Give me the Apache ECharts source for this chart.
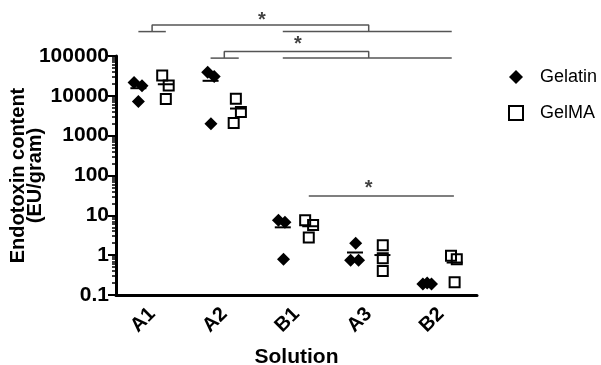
<!DOCTYPE html>
<html>
<head>
<meta charset="utf-8">
<script src="https://cdn.jsdelivr.net/npm/echarts@6/dist/echarts.min.js"></script>
<style>
html,body{margin:0;padding:0;background:#fff;}
#c{width:601px;height:365px;}
</style>
</head>
<body>
<div id="c"></div>
<script>
// ---- data ----
const categories = ['A1', 'A2', 'B1', 'A3', 'B2'];
const yTickLabels = ['0.1', '1', '10', '100', '1000', '10000', '100000'];
const gelatinValues = [
  [21600, 17800, 7200],
  [39100, 30400, 2000],
  [7.5, 6.7, 0.79],
  [2.0, 0.75, 0.75],
  [0.19, 0.2, 0.19]
];
const gelatinJitter = [
  [-0.25, -0.14, -0.19],
  [-0.23, -0.14, -0.185],
  [-0.25, -0.16, -0.18],
  [-0.18, -0.25, -0.14],
  [-0.25, -0.19, -0.13]
];
const gelmaValues = [
  [32200, 18100, 8270],
  [8400, 3910, 2080],
  [7.5, 5.7, 2.76],
  [1.78, 0.84, 0.4],
  [0.96, 0.79, 0.21]
];
const gelmaJitter = [
  [0.14, 0.23, 0.19],
  [0.16, 0.23, 0.13],
  [0.12, 0.23, 0.17],
  [0.195, 0.195, 0.195],
  [0.14, 0.22, 0.19]
];
// significance brackets (x in category units, y in data units)
const bracketPaths = [
  [[-0.19, 410000], [0.19, 410000]],
  [[0, 410000], [0, 600000], [3, 600000], [3, 410000]],
  [[1.81, 410000], [4.15, 410000]],
  [[0.81, 88500], [1.2, 88500]],
  [[1, 88500], [1, 129000], [3, 129000], [3, 88500]],
  [[1.81, 88500], [4.15, 88500]],
  [[2.17, 30.7], [4.18, 30.7]]
];
const starPoints = [[1.52, 800000], [2.02, 198000], [3.0, 48]];

// ---- build ----
const FONT = '"Liberation Sans", Arial, sans-serif';
function pts(vals, jit) {
  const out = [];
  vals.forEach((g, i) => g.forEach((v, k) => out.push([i + jit[i][k], v])));
  return out;
}
function means(vals, off) {
  return vals.map((g, i) => [i + off, g.reduce((a, b) => a + b, 0) / g.length]);
}
const minorTicks = [];
for (let e = -1; e < 5; e++) for (let m = 2; m <= 9; m++) minorTicks.push(Math.log10(m) + e);

const series = [
  {
    name: 'Gelatin', type: 'scatter', xAxisIndex: 1, yAxisIndex: 0,
    symbol: 'diamond', symbolSize: 13,
    itemStyle: { color: '#000', opacity: 1 },
    data: pts(gelatinValues, gelatinJitter), z: 3
  },
  {
    name: 'GelMA', type: 'scatter', xAxisIndex: 1, yAxisIndex: 0,
    symbol: 'rect', symbolSize: 10,
    itemStyle: { color: 'rgba(0,0,0,0)', borderColor: '#000', borderWidth: 2, opacity: 1 },
    data: pts(gelmaValues, gelmaJitter), z: 3
  },
  {
    name: 'meanGelatin', type: 'scatter', xAxisIndex: 1, yAxisIndex: 0,
    symbol: 'rect', symbolSize: [16, 2], itemStyle: { color: '#000', opacity: 1 },
    data: means(gelatinValues, -0.19), z: 4
  },
  {
    name: 'meanGelMA', type: 'scatter', xAxisIndex: 1, yAxisIndex: 0,
    symbol: 'rect', symbolSize: [16, 2], itemStyle: { color: '#000', opacity: 1 },
    data: means(gelmaValues, 0.19), z: 4
  },
  {
    name: 'stars', type: 'scatter', xAxisIndex: 1, yAxisIndex: 0, clip: false,
    symbolSize: 1, itemStyle: { color: 'rgba(0,0,0,0)' },
    label: { show: true, position: 'inside', formatter: '*', color: '#111',
      fontFamily: FONT, fontSize: 20, fontWeight: 'bold' },
    data: starPoints, silent: true
  }
];
bracketPaths.forEach((p, i) => series.push({
  name: 'br' + i, type: 'line', xAxisIndex: 1, yAxisIndex: 0, clip: false,
  symbol: 'none', lineStyle: { color: '#555', width: 1.5 }, data: p, silent: true
}));

const chart = echarts.init(document.getElementById('c'), null, { renderer: 'canvas' });
chart.setOption({
  animation: false,
  backgroundColor: '#fff',
  grid: { left: 116, right: 124, top: 56, bottom: 70, containLabel: false, outerBoundsMode: 'none' },
  legend: {
    data: [{ name: 'Gelatin', icon: 'diamond' }, { name: 'GelMA', icon: 'rect' }],
    orient: 'vertical', left: 503, top: 63,
    itemWidth: 14, itemHeight: 14, itemGap: 18,
    itemStyle: { opacity: 1 },
    textStyle: { fontFamily: FONT, fontSize: 18, color: '#000', padding: [0, 0, 0, 12] }
  },
  xAxis: [
    {
      type: 'category', data: categories, position: 'bottom',
      boundaryGap: true,
      axisLine: { onZero: false, lineStyle: { color: '#000', width: 3 } },
      axisTick: { alignWithLabel: true, length: 7, lineStyle: { color: '#000', width: 2.5 } },
      axisLabel: { rotate: 45, margin: 16, color: '#000', fontFamily: FONT, fontSize: 20, fontWeight: 'bold' },
      splitLine: { show: false },
      name: 'Solution', nameLocation: 'middle', nameGap: 52, nameMoveOverlap: false,
      nameTextStyle: { color: '#000', fontFamily: FONT, fontSize: 21, fontWeight: 'bold' }
    },
    { type: 'value', min: -0.5, max: 4.5, position: 'bottom', show: false,
      axisLine: { onZero: false } }
  ],
  yAxis: [
    {
      type: 'log', logBase: 10, min: 0.1, max: 100000, position: 'left',
      axisLine: { show: true, onZero: false, lineStyle: { color: '#000', width: 3 } },
      axisTick: { show: true, length: 8, lineStyle: { color: '#000', width: 2 } },
      axisLabel: {
        margin: 7, color: '#000', fontFamily: FONT, fontSize: 21, fontWeight: 'bold',
        formatter: v => yTickLabels[Math.round(Math.log10(v)) + 1]
      },
      splitLine: { show: false },
      name: 'Endotoxin content\n(EU/gram)', nameLocation: 'middle', nameRotate: 90, nameGap: 72,
      nameMoveOverlap: false,
      nameTextStyle: { color: '#000', fontFamily: FONT, fontSize: 20, fontWeight: 'bold', lineHeight: 17 }
    },
    {
      type: 'value', min: -1, max: 5, position: 'left',
      axisLine: { show: false, onZero: false },
      axisTick: { show: true, length: 4, customValues: minorTicks, lineStyle: { color: '#000', width: 1.5 } },
      axisLabel: { show: false },
      splitLine: { show: false }
    }
  ],
  series: series
});
</script>
</body>
</html>
